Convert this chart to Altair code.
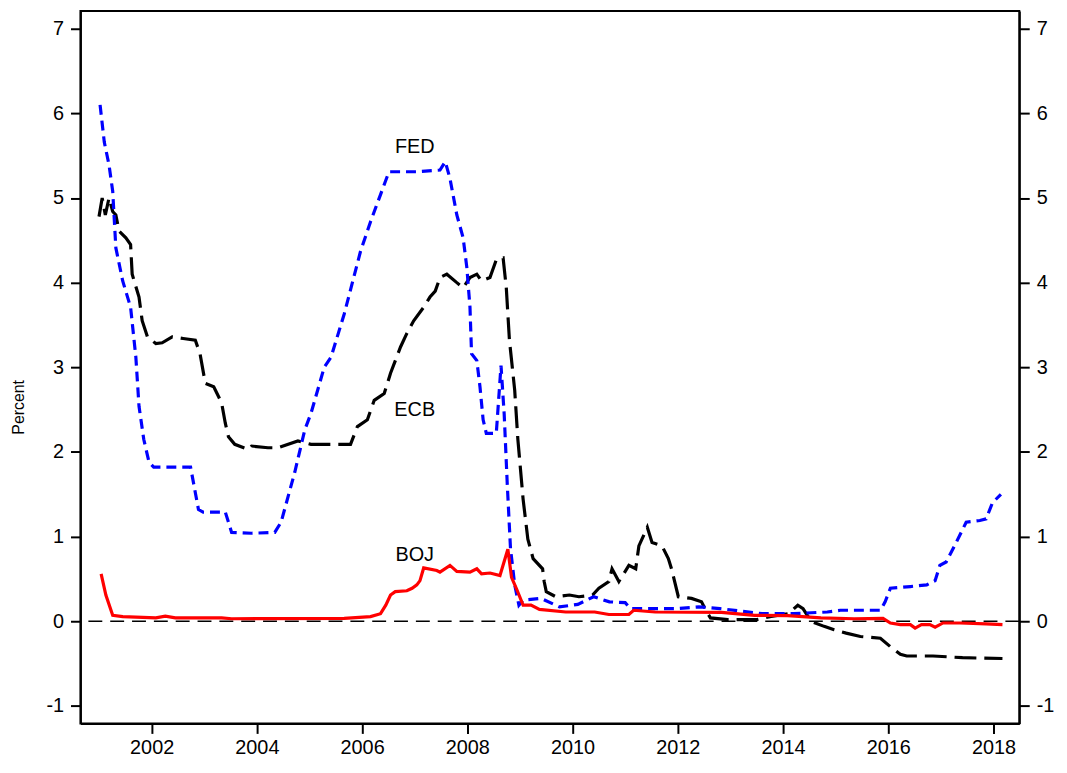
import altair as alt
import pandas as pd

# ---- data (decimal years, percent) ----
fed_year = [2001.02, 2001.10, 2001.19, 2001.26, 2001.32, 2001.45, 2001.60, 2001.70, 2001.76, 2001.85,
            2001.95, 2002.04, 2002.40, 2002.74, 2002.80, 2002.89, 2002.98, 2003.40, 2003.52, 2003.90,
            2004.34, 2004.46, 2004.72, 2004.91, 2005.03, 2005.28, 2005.41, 2005.66, 2005.97, 2006.16,
            2006.35, 2006.51, 2007.04, 2007.48, 2007.58, 2007.67, 2007.80, 2007.92, 2007.99, 2008.05,
            2008.08, 2008.18, 2008.24, 2008.30, 2008.36, 2008.55, 2008.64, 2008.70, 2008.76, 2008.82,
            2008.90, 2008.98, 2009.06, 2009.40, 2009.75, 2010.10, 2010.40, 2010.70, 2011.00, 2011.10,
            2011.60, 2012.00, 2012.40, 2012.80, 2013.20, 2013.60, 2014.20, 2014.84, 2015.09, 2015.85,
            2015.94, 2016.04, 2016.42, 2016.73, 2016.89, 2016.98, 2017.10, 2017.29, 2017.48, 2017.74,
            2017.86, 2017.98, 2018.14]
fed_val = [6.10, 5.66, 5.39, 5.08, 4.41, 4.02, 3.71, 3.12, 2.54, 2.15,
           1.88, 1.82, 1.82, 1.82, 1.62, 1.32, 1.29, 1.29, 1.05, 1.04,
           1.05, 1.17, 1.76, 2.26, 2.46, 3.00, 3.12, 3.63, 4.37, 4.72,
           5.04, 5.31, 5.31, 5.33, 5.43, 5.23, 4.80, 4.53, 4.18, 3.71,
           3.16, 3.08, 2.77, 2.38, 2.22, 2.22, 3.02, 2.45, 1.60, 0.86,
           0.43, 0.19, 0.25, 0.27, 0.17, 0.20, 0.29, 0.23, 0.22, 0.15,
           0.15, 0.15, 0.17, 0.15, 0.12, 0.09, 0.09, 0.11, 0.13, 0.13,
           0.23, 0.39, 0.41, 0.43, 0.48, 0.66, 0.70, 0.93, 1.17, 1.19,
           1.21, 1.40, 1.50]

ecb_year = [2001.00, 2001.06, 2001.12, 2001.19, 2001.26, 2001.32, 2001.38, 2001.51, 2001.60, 2001.63,
            2001.76, 2001.82, 2001.92, 2002.08, 2002.20, 2002.39, 2002.60, 2002.83, 2002.92, 2003.02,
            2003.18, 2003.33, 2003.40, 2003.46, 2003.58, 2003.84, 2003.90, 2004.21, 2004.40, 2004.78,
            2005.03, 2005.78, 2005.91, 2006.10, 2006.23, 2006.42, 2006.54, 2006.73, 2006.85, 2006.98,
            2007.17, 2007.29, 2007.39, 2007.48, 2007.61, 2007.80, 2007.92, 2008.05, 2008.18, 2008.27,
            2008.43, 2008.55, 2008.68, 2008.74, 2008.80, 2008.90, 2008.96, 2009.06, 2009.15, 2009.25,
            2009.43, 2009.46, 2009.50, 2009.68, 2009.94, 2010.12, 2010.38, 2010.50, 2010.69, 2010.75,
            2010.88, 2011.07, 2011.20, 2011.26, 2011.42, 2011.51, 2011.70, 2011.82, 2011.88, 2012.01,
            2012.26, 2012.45, 2012.55, 2012.62, 2012.95, 2013.50, 2013.75, 2014.10, 2014.28, 2014.38,
            2014.53, 2014.78, 2014.97, 2015.20, 2015.47, 2015.85, 2016.04, 2016.23, 2016.35, 2016.85,
            2017.41, 2018.17]
ecb_val = [4.78, 5.00, 4.80, 5.00, 4.84, 4.80, 4.61, 4.53, 4.45, 4.10,
           3.83, 3.55, 3.36, 3.28, 3.29, 3.36, 3.34, 3.32, 3.16, 2.81,
           2.77, 2.58, 2.34, 2.18, 2.09, 2.03, 2.07, 2.05, 2.05, 2.13,
           2.09, 2.09, 2.30, 2.38, 2.61, 2.69, 2.93, 3.24, 3.40, 3.55,
           3.71, 3.83, 3.90, 4.06, 4.10, 4.00, 3.94, 4.06, 4.10, 4.02,
           4.06, 4.27, 4.29, 3.94, 3.32, 2.73, 2.15, 1.44, 0.97, 0.74,
           0.62, 0.47, 0.35, 0.29, 0.31, 0.29, 0.31, 0.39, 0.47, 0.62,
           0.47, 0.66, 0.62, 0.89, 1.11, 0.93, 0.89, 0.74, 0.62, 0.29,
           0.27, 0.23, 0.11, 0.04, 0.02, 0.02, 0.055, 0.09, 0.19, 0.15,
           0.00, -0.06, -0.10, -0.14, -0.18, -0.20, -0.30, -0.39, -0.41, -0.41,
           -0.43, -0.44]

boj_year = [2001.04, 2001.13, 2001.26, 2001.45, 2002.08, 2002.26, 2002.45, 2003.33, 2003.52, 2005.66,
            2006.16, 2006.35, 2006.45, 2006.54, 2006.63, 2006.85, 2006.95, 2007.04, 2007.10, 2007.17,
            2007.42, 2007.48, 2007.67, 2007.80, 2008.05, 2008.18, 2008.27, 2008.43, 2008.62, 2008.77,
            2008.84, 2008.93, 2009.06, 2009.21, 2009.37, 2009.87, 2010.42, 2010.69, 2011.07, 2011.16,
            2011.57, 2012.83, 2013.46, 2014.09, 2014.72, 2015.35, 2015.90, 2016.04, 2016.23, 2016.42,
            2016.51, 2016.63, 2016.79, 2016.89, 2017.04, 2017.36, 2017.86, 2018.17]
boj_val = [0.56, 0.31, 0.07, 0.055, 0.04, 0.06, 0.04, 0.04, 0.03, 0.035,
           0.055, 0.09, 0.19, 0.31, 0.35, 0.36, 0.39, 0.43, 0.48, 0.63,
           0.60, 0.58, 0.66, 0.59, 0.58, 0.62, 0.56, 0.57, 0.54, 0.85,
           0.52, 0.39, 0.19, 0.19, 0.14, 0.11, 0.11, 0.08, 0.08, 0.13,
           0.11, 0.105, 0.07, 0.067, 0.04, 0.03, 0.035, -0.02, -0.04, -0.04,
           -0.08, -0.04, -0.04, -0.07, -0.02, -0.02, -0.03, -0.04]

label_text = ["FED", "ECB", "BOJ"]
label_year = [2007.0, 2007.0, 2007.0]
label_val = [5.60, 2.50, 0.78]

y_ticks = [-1, 0, 1, 2, 3, 4, 5, 6, 7]
x_ticks = [2002, 2004, 2006, 2008, 2010, 2012, 2014, 2016, 2018]

FONT = "Liberation Sans"

fed_df = pd.DataFrame({"year": fed_year, "value": fed_val})
ecb_df = pd.DataFrame({"year": ecb_year, "value": ecb_val})
boj_df = pd.DataFrame({"year": boj_year, "value": boj_val})
lab_df = pd.DataFrame({"year": label_year, "value": label_val, "text": label_text})
zero_df = pd.DataFrame({"value": [0]})

x_scale = alt.Scale(domain=[2000.647, 2018.49], nice=False, zero=False)
y_scale = alt.Scale(domain=[-1.207, 7.21], nice=False, zero=False)

x_enc = alt.X("year:Q", scale=x_scale,
              axis=alt.Axis(values=x_ticks, format="d", title=None, tickSize=10,
                            labelPadding=4, labelFontSize=20))
left_axis = alt.Axis(values=y_ticks, labelExpr="toString(datum.value)", title="Percent", tickSize=10,
                     labelPadding=7, labelFontSize=20, titleFontSize=16,
                     titleFontWeight="normal", titleColor="black",
                     titleAngle=270, titleAlign="center", titleBaseline="middle",
                     titleX=-62, titleY=399)
y_enc = alt.Y("value:Q", scale=y_scale, axis=left_axis)

ecb = alt.Chart(ecb_df).mark_line(color="black", strokeWidth=3.2, strokeDash=[22, 8]).encode(x=x_enc, y=y_enc)
fed = alt.Chart(fed_df).mark_line(color="#0000FF", strokeWidth=3.2, strokeDash=[10, 6]).encode(x=x_enc, y=y_enc)
boj = alt.Chart(boj_df).mark_line(color="#FF0000", strokeWidth=3.2).encode(x=x_enc, y=y_enc)
labels = alt.Chart(lab_df).mark_text(font=FONT, fontSize=20, color="black", align="center",
                                     baseline="middle").encode(x=x_enc, y=y_enc, text="text:N")

lines = alt.layer(ecb, fed, boj, labels)

right = alt.Chart(zero_df).mark_rule(color="black", strokeWidth=1.5, strokeDash=[14, 8]).encode(
    y=alt.Y("value:Q", scale=y_scale,
            axis=alt.Axis(orient="right", values=y_ticks, labelExpr="toString(datum.value)",
                          title=None, tickSize=10, labelPadding=7, labelFontSize=20))
)

chart = alt.layer(right, lines).resolve_scale(y="independent").properties(
    width=946, height=718,
    autosize=alt.AutoSizeParams(type="none"),
    padding={"left": 73, "top": 0, "right": 40, "bottom": 47},
).configure_view(stroke="black", strokeWidth=2).configure_axis(
    domainColor="black", domainWidth=2, tickColor="black", tickWidth=2,
    labelColor="black", labelFont=FONT, titleFont=FONT, grid=False
)

chart.save("out.html", embed_options={"renderer": "svg", "actions": False})
